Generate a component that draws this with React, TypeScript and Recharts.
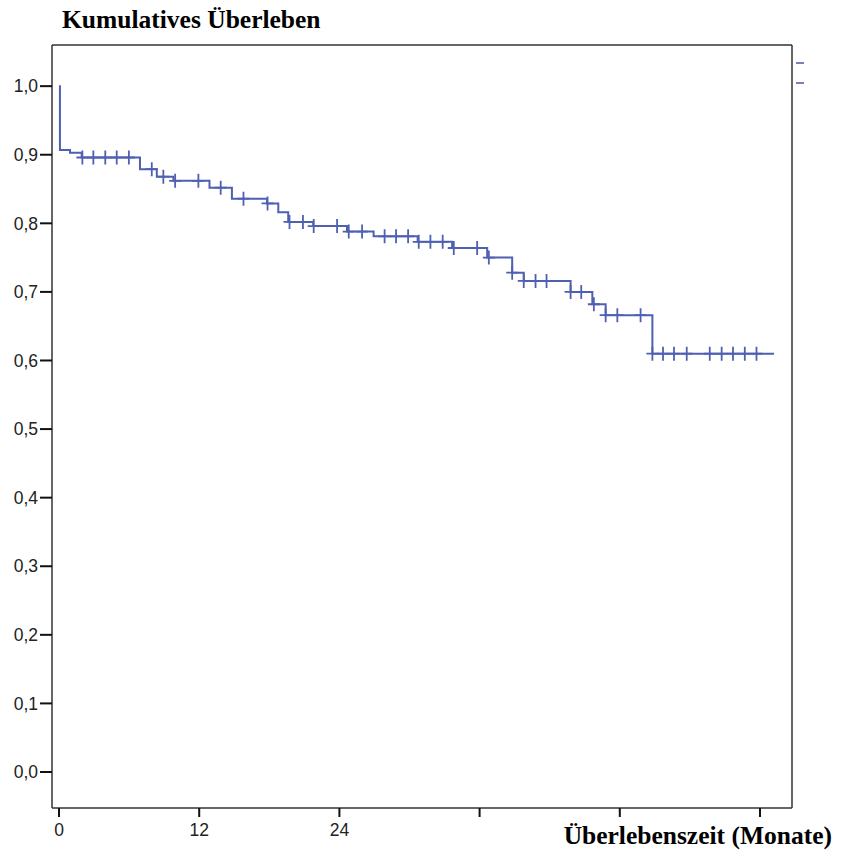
import React from "react";
import {
  ComposedChart,
  Line,
  Scatter,
  XAxis,
  YAxis,
  ReferenceLine,
} from "recharts";

// Survival step function (time in months, cumulative survival)
const survTimes = [0, 0.08, 0.94, 1.94, 6.93, 8.37, 9.79, 12.88, 14.8, 17.8, 18.77, 19.62, 21.76, 24.65, 26.93, 30.7, 33.65, 36.65, 38.79, 39.78, 43.79, 45.65, 46.79, 50.79, 61.2];
const survValues = [1.0, 0.907, 0.903, 0.896, 0.879, 0.868, 0.862, 0.852, 0.836, 0.829, 0.816, 0.802, 0.796, 0.788, 0.781, 0.773, 0.764, 0.75, 0.728, 0.716, 0.7, 0.682, 0.666, 0.61, 0.61];

// Censored observations (months)
const censorTimes = [2.0, 2.94, 3.96, 4.94, 5.98, 7.94, 8.93, 9.94, 11.93, 13.84, 15.79, 17.85, 19.73, 20.88, 21.8, 23.8, 24.8, 25.94, 27.87, 28.85, 29.88, 30.79, 31.79, 32.84, 33.79, 35.79, 36.79, 38.79, 39.78, 40.79, 41.73, 43.79, 44.7, 45.78, 46.79, 47.79, 49.78, 50.79, 51.7, 52.64, 53.73, 55.7, 56.72, 57.69, 58.7, 59.7];

const xTicks = [0, 12, 24, 36, 48, 60];
const xTickLabels = ["0", "12", "24", "", "", ""];
const yTicks = [0, 0.1, 0.2, 0.3, 0.4, 0.5, 0.6, 0.7, 0.8, 0.9, 1.0];

const X_MIN = -0.6;
const X_MAX = 62.74;
const Y_MIN = -0.0525;
const Y_MAX = 1.06;

const BLUE = "#4f60b2";

const survData = survTimes.map((t, i) => ({ t, v: survValues[i] }));

const survAt = (t: number) => {
  let v = survValues[0];
  for (let i = 0; i < survTimes.length; i++) {
    if (survTimes[i] <= t + 1e-9) v = survValues[i];
  }
  return v;
};

const censorData = censorTimes.map((t) => ({ t, v: survAt(t) }));

const Cross = (props: any) => {
  const { cx, cy } = props;
  if (cx == null || cy == null) return null;
  return (
    <path
      d={`M${cx - 6},${cy} L${cx + 6},${cy} M${cx},${cy - 7} L${cx},${cy + 7}`}
      stroke={BLUE}
      strokeWidth={1.8}
      fill="none"
    />
  );
};

export default function App() {
  return (
    <div
      style={{
        position: "absolute",
        left: 0,
        top: 0,
        width: 847,
        height: 856,
        background: "#fff",
      }}
    >
      <div
        style={{
          position: "absolute",
          left: 62,
          top: 5,
          fontFamily: "'Liberation Serif', 'Times New Roman', serif",
          fontWeight: "bold",
          fontSize: 25.5,
          color: "#000",
          whiteSpace: "nowrap",
        }}
      >
        Kumulatives Überleben
      </div>
      <div
        style={{
          position: "absolute",
          right: 15,
          top: 821,
          fontFamily: "'Liberation Serif', 'Times New Roman', serif",
          fontWeight: "bold",
          fontSize: 25.5,
          color: "#000",
          whiteSpace: "nowrap",
        }}
      >
        Überlebenszeit (Monate)
      </div>
      <div style={{ position: "absolute", left: 796, top: 62, width: 8, height: 2, background: BLUE, opacity: 0.8 }} />
      <div style={{ position: "absolute", left: 796, top: 82, width: 8, height: 2, background: BLUE, opacity: 0.8 }} />
      <ComposedChart
        width={847}
        height={856}
        margin={{ top: 45, right: 55, left: 0, bottom: 0 }}
        style={{ position: "absolute", left: 0, top: 0 }}
      >
        <XAxis
          dataKey="t"
          type="number"
          domain={[X_MIN, X_MAX]}
          allowDataOverflow
          ticks={xTicks}
          tickFormatter={(v: number) => xTickLabels[xTicks.indexOf(v)] ?? ""}
          height={48}
          tickSize={9}
          tickMargin={7}
          axisLine={{ stroke: "#333", strokeWidth: 1.5 }}
          tickLine={{ stroke: "#111", strokeWidth: 2 }}
          tick={{ fill: "#222", fontSize: 17.5, fontFamily: "'Liberation Sans', Arial, sans-serif" }}
        />
        <YAxis
          type="number"
          domain={[Y_MIN, Y_MAX]}
          allowDataOverflow
          ticks={yTicks}
          tickFormatter={(v: number) => v.toFixed(1).replace(".", ",")}
          width={52}
          tickSize={12}
          tickMargin={2}
          axisLine={{ stroke: "#333", strokeWidth: 1.5 }}
          tickLine={{ stroke: "#111", strokeWidth: 2 }}
          tick={{ fill: "#222", fontSize: 17.5, fontFamily: "'Liberation Sans', Arial, sans-serif" }}
        />
        <ReferenceLine y={Y_MAX} stroke="#333" strokeWidth={1.5} ifOverflow="extendDomain" />
        <ReferenceLine x={X_MAX} stroke="#333" strokeWidth={1.5} ifOverflow="extendDomain" />
        <Line
          data={survData}
          dataKey="v"
          type="stepAfter"
          stroke={BLUE}
          strokeWidth={2}
          dot={false}
          activeDot={false}
          isAnimationActive={false}
          legendType="none"
        />
        <Scatter
          data={censorData}
          dataKey="v"
          shape={<Cross />}
          isAnimationActive={false}
          legendType="none"
        />
      </ComposedChart>
    </div>
  );
}
